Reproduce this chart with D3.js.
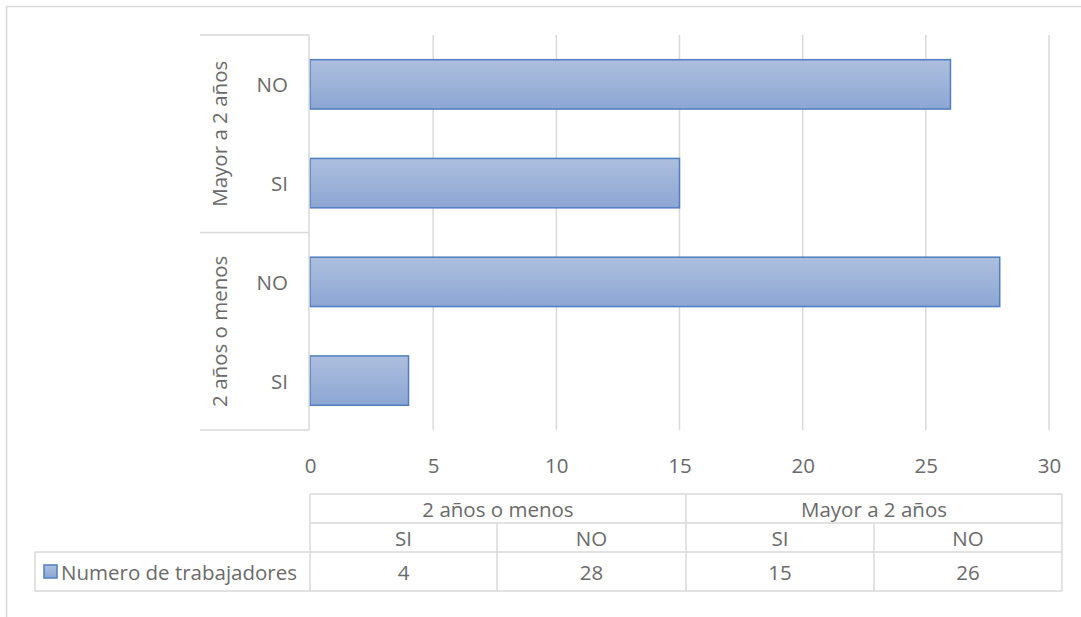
<!DOCTYPE html>
<html>
<head>
<meta charset="utf-8">
<script src="https://cdn.jsdelivr.net/npm/d3@7"></script>
<style>
  html, body { margin: 0; padding: 0; background: #fff; }
  svg { display: block; }
  text { font-family: "Open Sans", Lato, sans-serif; font-weight: 400; fill: #6a6a6a; }
</style>
</head>
<body>
<svg id="chart" width="1081" height="617"></svg>
<script>
// Data: workers by tenure group and answer
const groups = ["2 años o menos", "Mayor a 2 años"];
const answers = ["SI", "NO"];
const values = [4, 28, 15, 26];          // order: group0 SI, group0 NO, group1 SI, group1 NO
const seriesName = "Numero de trabajadores";
const xTicks = [0, 5, 10, 15, 20, 25, 30];

const rows = [];
groups.forEach((g, gi) => answers.forEach((a, ai) => {
  rows.push({ group: g, answer: a, key: g + "|" + a, value: values[gi * answers.length + ai] });
}));

const svg = d3.select("#chart");
const gridColor = "#d9d9d9";
const textColor = "#6a6a6a";
const font = 20.5;

// Outer chart frame (extends beyond the visible area on right and bottom)
svg.append("rect")
  .attr("x", 6.5).attr("y", 6.5)
  .attr("width", 1100).attr("height", 700)
  .attr("fill", "none").attr("stroke", gridColor).attr("stroke-width", 1.5);

const plot = { left: 310, right: 1049, top: 35, bottom: 430 };

const x = d3.scaleLinear().domain([0, 30]).range([plot.left, plot.right]);

// Bars ordered top to bottom: last category on top
const yKeys = rows.map(d => d.key).reverse();
const y = d3.scaleBand().domain(yKeys).range([plot.top, plot.bottom])
  .paddingInner(0.5).paddingOuter(0.25);

// Vertical gridlines
svg.append("g").selectAll("line").data(xTicks.slice(1)).join("line")
  .attr("x1", d => x(d)).attr("x2", d => x(d))
  .attr("y1", plot.top).attr("y2", plot.bottom)
  .attr("stroke", gridColor).attr("stroke-width", 1.5);

// Bar gradient
const defs = svg.append("defs");
const grad = defs.append("linearGradient").attr("id", "barGrad")
  .attr("x1", 0).attr("y1", 0).attr("x2", 0).attr("y2", 1);
grad.append("stop").attr("offset", "0%").attr("stop-color", "#adbfde");
grad.append("stop").attr("offset", "100%").attr("stop-color", "#8ca6d3");

svg.append("g").selectAll("rect").data(rows).join("rect")
  .attr("x", x(0))
  .attr("y", d => y(d.key))
  .attr("width", d => x(d.value) - x(0))
  .attr("height", y.bandwidth())
  .attr("fill", "url(#barGrad)")
  .attr("stroke", "#4f7ec1").attr("stroke-width", 1.5);

// Category axis frame: axis line, group separators
const axisLeft = 200;
const axisG = svg.append("g");
axisG.append("line")
  .attr("x1", plot.left - 1).attr("x2", plot.left - 1)
  .attr("y1", plot.top).attr("y2", plot.bottom)
  .attr("stroke", gridColor).attr("stroke-width", 1.5);
const groupBounds = [plot.top, (plot.top + plot.bottom) / 2, plot.bottom];
axisG.selectAll("line.sep").data(groupBounds).join("line").attr("class", "sep")
  .attr("x1", axisLeft).attr("x2", plot.left - 1)
  .attr("y1", d => d).attr("y2", d => d)
  .attr("stroke", gridColor).attr("stroke-width", 1.5);

// Answer labels
axisG.selectAll("text.ans").data(rows).join("text").attr("class", "ans")
  .attr("x", 288)
  .attr("y", d => y(d.key) + y.bandwidth() / 2)
  .attr("text-anchor", "end").attr("dominant-baseline", "central")
  .attr("font-size", font)
  .text(d => d.answer);

// Group labels (rotated)
groups.forEach(g => {
  const keys = rows.filter(r => r.group === g).map(r => r.key);
  const ys = keys.map(k => y(k) + y.bandwidth() / 2);
  const cy = (d3.min(ys) + d3.max(ys)) / 2;
  axisG.append("text")
    .attr("transform", `translate(219,${cy}) rotate(-90)`)
    .attr("text-anchor", "middle").attr("dominant-baseline", "central")
    .attr("font-size", font)
    .text(g);
});

// Value axis tick labels
const xAxis = d3.axisBottom(x).tickValues(xTicks).tickSize(0).tickPadding(0);
const xg = svg.append("g").attr("transform", `translate(0,${plot.bottom})`).call(xAxis);
xg.select(".domain").remove();
xg.selectAll("text")
  .attr("y", 35).attr("dy", null)
  .attr("dominant-baseline", "central")
  .attr("font-size", font)
  .attr("font-family", null)
  .attr("fill", textColor);

// Data table below the chart
const colEdges = [310, 497, 686, 874, 1062];
const rowEdges = [494, 523, 552, 591];
const tbl = svg.append("g");
const line = (x1, y1, x2, y2) => tbl.append("line")
  .attr("x1", x1).attr("y1", y1).attr("x2", x2).attr("y2", y2)
  .attr("stroke", gridColor).attr("stroke-width", 1.5);

line(colEdges[0], rowEdges[0], colEdges[4], rowEdges[0]);
line(colEdges[0], rowEdges[1], colEdges[4], rowEdges[1]);
line(35, rowEdges[2], colEdges[4], rowEdges[2]);
line(35, rowEdges[3], colEdges[4], rowEdges[3]);
line(35, rowEdges[2], 35, rowEdges[3]);
line(colEdges[0], rowEdges[0], colEdges[0], rowEdges[3]);
line(colEdges[2], rowEdges[0], colEdges[2], rowEdges[3]);
line(colEdges[4], rowEdges[0], colEdges[4], rowEdges[3]);
line(colEdges[1], rowEdges[1], colEdges[1], rowEdges[3]);
line(colEdges[3], rowEdges[1], colEdges[3], rowEdges[3]);

const mid = (a, b) => (a + b) / 2;
groups.forEach((g, gi) => {
  tbl.append("text")
    .attr("x", mid(colEdges[gi * 2], colEdges[gi * 2 + 2]))
    .attr("y", mid(rowEdges[0], rowEdges[1]))
    .attr("text-anchor", "middle").attr("dominant-baseline", "central")
    .attr("font-size", font).text(g);
});
rows.forEach((r, i) => {
  tbl.append("text")
    .attr("x", mid(colEdges[i], colEdges[i + 1]))
    .attr("y", mid(rowEdges[1], rowEdges[2]))
    .attr("text-anchor", "middle").attr("dominant-baseline", "central")
    .attr("font-size", font).text(r.answer);
  tbl.append("text")
    .attr("x", mid(colEdges[i], colEdges[i + 1]))
    .attr("y", mid(rowEdges[2], rowEdges[3]))
    .attr("text-anchor", "middle").attr("dominant-baseline", "central")
    .attr("font-size", font).text(r.value);
});

// Legend key inside the table
tbl.append("rect")
  .attr("x", 44).attr("y", 565).attr("width", 13).attr("height", 13)
  .attr("fill", "url(#barGrad)").attr("stroke", "#4f7ec1").attr("stroke-width", 1.5);
tbl.append("text")
  .attr("x", 61).attr("y", mid(rowEdges[2], rowEdges[3]))
  .attr("dominant-baseline", "central")
  .attr("font-size", font).text(seriesName);
</script>
</body>
</html>
